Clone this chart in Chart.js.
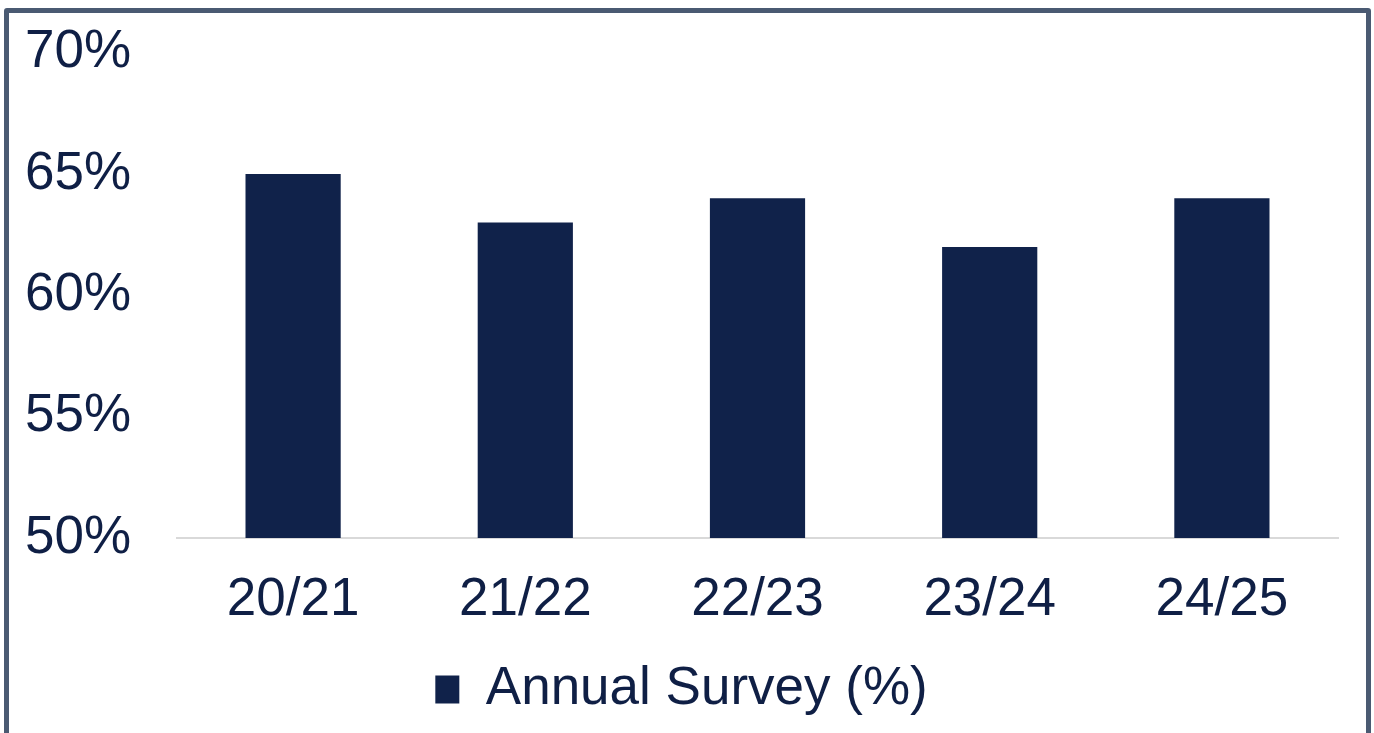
<!DOCTYPE html>
<html>
<head>
<meta charset="utf-8">
<script src="https://cdn.jsdelivr.net/npm/chart.js@4"></script>
<style>
  html, body { margin: 0; padding: 0; background: #fff; overflow: hidden; }
  #surveyChart { position: absolute; left: 0; top: 0; }
  .frame {
    position: absolute; left: 4px; top: 8px; width: 1357px; height: 760px;
    border: 5px solid #4a5a72; border-radius: 3px; pointer-events: none;
  }
</style>
</head>
<body>
<canvas id="surveyChart" width="1374" height="733"></canvas>
<div class="frame"></div>
<script>
// Survey years and results
const years = ['20/21', '21/22', '22/23', '23/24', '24/25'];
const surveyValues = [65, 63, 64, 62, 64];
const yTicks = [50, 55, 60, 65, 70];

const navy = '#10224a';
const textColor = '#0f1f45';
const fontFamily = '"Liberation Sans", Arial, sans-serif';

const data = {
    labels: years,
    datasets: [{
        label: 'Annual Survey (%)',
        data: surveyValues,
        backgroundColor: navy,
        borderWidth: 0,
        barPercentage: 0.41,
        categoryPercentage: 1
    }]
};

const config = {
    type: 'bar',
    data: data,
    options: {
        responsive: false,
        animation: false,
        layout: {
            padding: { left: 25, right: 36, top: 0, bottom: 7 }
        },
        scales: {
            x: {
                grid: { display: false, drawTicks: false },
                border: { display: true, color: '#d9d9d9', width: 2 },
                ticks: {
                    color: textColor,
                    padding: 36,
                    font: { family: fontFamily, size: 53, lineHeight: 1.0 }
                }
            },
            y: {
                min: 50,
                max: 70,
                afterBuildTicks: (scale) => {
                    scale.ticks = yTicks.map(v => ({ value: v }));
                },
                afterFit: (scale) => {
                    scale.width = 152;
                },
                grid: { display: false, drawTicks: false },
                border: { display: false },
                ticks: {
                    color: textColor,
                    padding: 21,
                    crossAlign: 'far',
                    font: { family: fontFamily, size: 53 },
                    callback: (v) => v + '%'
                }
            }
        },
        plugins: {
            legend: {
                position: 'bottom',
                labels: {
                    color: textColor,
                    boxWidth: 24,
                    boxHeight: 28,
                    padding: 0,
                    font: { family: fontFamily, size: 53 }
                }
            },
            tooltip: { enabled: false }
        }
    }
};

const surveyChart = new Chart(document.getElementById('surveyChart'), config);
</script>
</body>
</html>
